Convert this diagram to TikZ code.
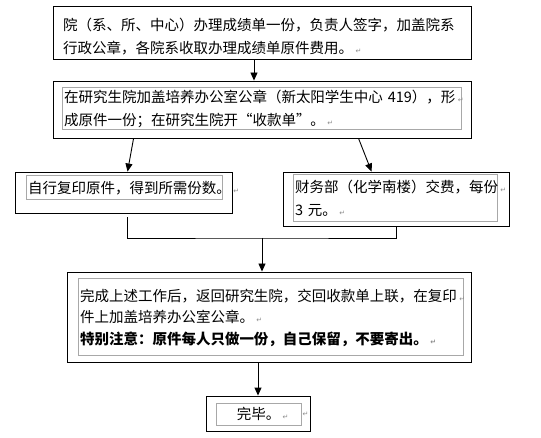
\documentclass[tikz,border=0pt]{standalone}
\usepackage{fontspec}
\setmainfont{Noto Sans CJK SC}
\newfontfamily\markfont{DejaVu Sans}
\usepackage{xcolor}
\usetikzlibrary{arrows.meta}
\definecolor{fcInk}{HTML}{000000}
\definecolor{fcFrame}{HTML}{A8A8A8}
\definecolor{fcMark}{HTML}{8C8C8C}
\newcommand{\parmark}{\rlap{\,{\markfont\color{fcMark}\fontsize{7}{7}\selectfont ↵}}}
\tikzset{
  fc diagram/.style={font=\fontsize{14.5}{23}\selectfont, text=fcInk,
    x=1pt, y=-1pt, line cap=butt, line join=miter},
  fc box/.style={draw=fcInk, fill=white, line width=0.9pt, inner sep=0pt},
  fc text/.style={align=left, inner sep=2pt},
  fc frame/.style={fc text, draw=fcFrame, line width=1pt},
  fc arrow/.style={-{Triangle[length=8pt,width=7pt]}, draw=fcInk, line width=0.9pt},
  fc line/.style={draw=fcInk, line width=0.9pt},
  fc mark/.style={font=\markfont\fontsize{7}{7}\selectfont, text=fcMark, inner sep=1pt}
}

\begin{document}
\begin{tikzpicture}[fc diagram]
\useasboundingbox (0,0) rectangle (541,438);
\node[fc box, minimum width=418, minimum height=53] (apply) at (262,32.5) {};
\node[fc text, anchor=west, text width=400] (applytext) at (61,36.5)
  {院（系、所、中心）办理成绩单一份，负责人签字，加盖院系\\行政公章，各院系收取办理成绩单原件费用。\parmark};
\node[fc box, minimum width=418, minimum height=57] (stamp) at (262,109.5) {};
\node[fc frame, minimum width=399, minimum height=42, text width=395] (stamptext) at (261.5,109)
  {在研究生院加盖培养办公室公章（新太阳学生中心 419），形\parmark\\成原件一份；在研究生院开“收款单”。\parmark};
\node[fc box, minimum width=217, minimum height=41] (copy) at (123.5,192.5) {};
\node[fc frame, minimum width=196, minimum height=24, text width=192] (copytext) at (124,188)
  {自行复印原件，得到所需份数。\parmark};
\node[fc box, minimum width=226, minimum height=54] (pay) at (396,199) {};
\node[fc frame, minimum width=204, minimum height=47, text width=200] (paytext) at (395,198.5)
  {财务部（化学南楼）交费，每份\parmark\\3 元。\parmark};
\node[fc box, minimum width=404, minimum height=90] (finish) at (269,317) {};
\node[fc frame, minimum width=385, minimum height=77, text width=381,
  font=\fontsize{14.5}{21.5}\selectfont] (finishtext) at (270.5,317.5)
  {完成上述工作后，返回研究生院，交回收款单上联，在复印\parmark\\件上加盖培养办公室公章。\parmark\\
   \bfseries 特别注意：原件每人只做一份，自己保留，不要寄出。\parmark};
\node[fc box, minimum width=104, minimum height=35] (done) at (258,413.5) {};
\node[fc frame, align=center, minimum width=85, minimum height=22, text width=81,
  label={[fc mark]east:↵}] (donetext) at (258.5,414) {完毕。\parmark};

\coordinate (merge) at (262,238);
\draw[fc arrow] ([xshift=-8pt]apply.south) -- ([xshift=-8pt]stamp.north);
\draw[fc arrow] ([xshift=81pt]stamp.south west) -- ([xshift=113pt]copy.north west);
\draw[fc arrow] ([xshift=306pt]stamp.south west) -- ([xshift=89pt]pay.north west);
\draw[fc line] ([xshift=3.5pt,yshift=-4pt]copy.south) |- (merge) -| ([yshift=-1pt]pay.south);
\draw[fc arrow] (merge) -- (merge |- finish.north);
\draw[fc arrow] (finish.south -| done.north) -- (done.north);
\end{tikzpicture}
\end{document}
